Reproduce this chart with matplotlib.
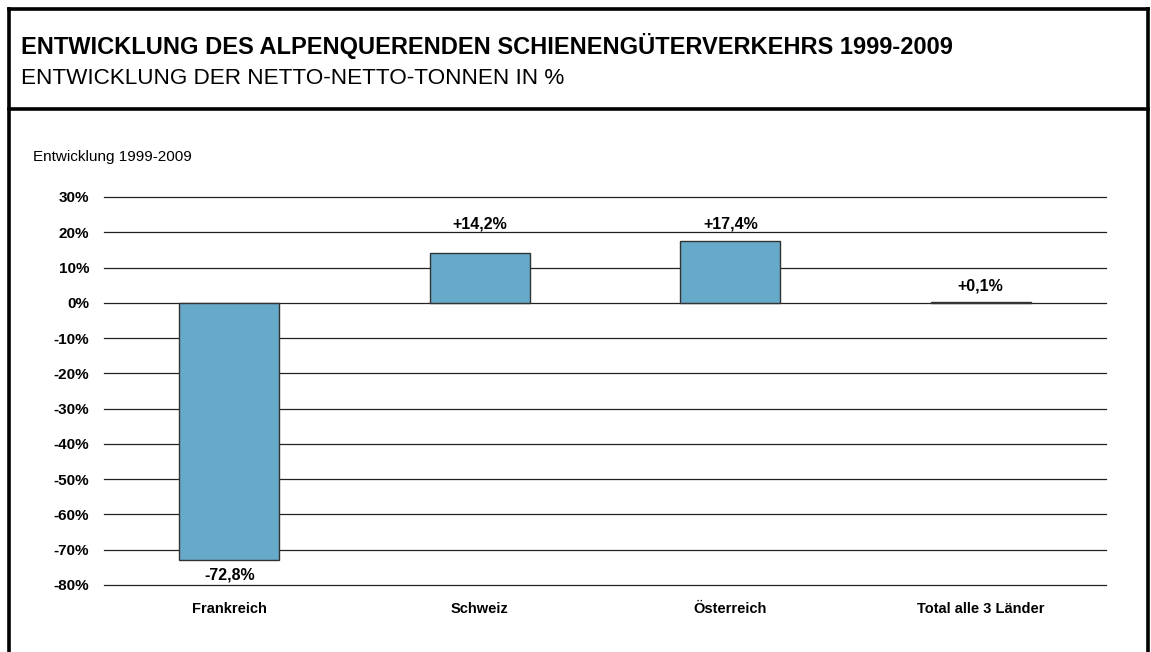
import matplotlib
matplotlib.use("Agg")
import matplotlib.pyplot as plt
from matplotlib.lines import Line2D

categories = ["Frankreich", "Schweiz", "Österreich", "Total alle 3 Länder"]
values = [-72.8, 14.2, 17.4, 0.1]
value_labels = ["-72,8%", "+14,2%", "+17,4%", "+0,1%"]
yticks = [30, 20, 10, 0, -10, -20, -30, -40, -50, -60, -70, -80]

title = "ENTWICKLUNG DES ALPENQUERENDEN SCHIENENGÜTERVERKEHRS 1999-2009"
subtitle = "ENTWICKLUNG DER NETTO-NETTO-TONNEN IN %"
axis_note = "Entwicklung 1999-2009"

plt.rcParams["font.family"] = ["Liberation Sans", "DejaVu Sans"]

W, H = 1151, 652
fig = plt.figure(figsize=(W / 100, H / 100), dpi=100)

def fx(px):
    return px / W

def fy(py):
    return 1 - py / H

# frame lines
border = dict(color="black", lw=2.6, solid_capstyle="projecting")
fig.add_artist(Line2D([fx(8.5), fx(8.5)], [fy(8.5), fy(660)], **border))
fig.add_artist(Line2D([fx(1147.5), fx(1147.5)], [fy(8.5), fy(660)], **border))
fig.add_artist(Line2D([fx(8.5), fx(1147.5)], [fy(8.5), fy(8.5)], **border))
fig.add_artist(Line2D([fx(8.5), fx(1147.5)], [fy(108.5), fy(108.5)], **border))

fig.text(fx(21), fy(46), title, fontsize=17, fontweight="bold", va="center", ha="left")
fig.text(fx(21), fy(78), subtitle, fontsize=16.2, va="center", ha="left")
fig.text(fx(33), fy(157), axis_note, fontsize=11, va="center", ha="left")

ax = fig.add_axes([fx(104), fy(585), fx(1106) - fx(104), fy(197) - fy(585)])
x = range(len(categories))
ax.bar(x, values, width=0.4, color="#67a9c9", edgecolor="#333333", linewidth=1, zorder=3)
ax.set_xlim(-0.5, len(categories) - 0.5)
ax.set_ylim(-80, 30)
ax.set_yticks(yticks)
ax.set_yticklabels([f"{t}%" for t in yticks], fontsize=11, fontweight="bold")
ax.set_xticks(list(x))
ax.set_xticklabels(categories, fontsize=10.5, fontweight="bold")
ax.tick_params(axis="y", length=0, pad=10.8)
ax.tick_params(axis="x", length=0, pad=12.5)
for t in yticks:
    ax.axhline(t, color="#222222", lw=0.9, zorder=1, clip_on=False)
for s in ax.spines.values():
    s.set_visible(False)

# label offsets from the bar end, in pixels
label_offsets = [-15, 29, 17, 16]
for i, (v, lab, off) in enumerate(zip(values, value_labels, label_offsets)):
    ax.annotate(lab, (i, v), xytext=(0, off * 0.72), textcoords="offset points",
                ha="center", va="center", fontsize=11.5, fontweight="bold")

fig.savefig("out.png", dpi=100)
